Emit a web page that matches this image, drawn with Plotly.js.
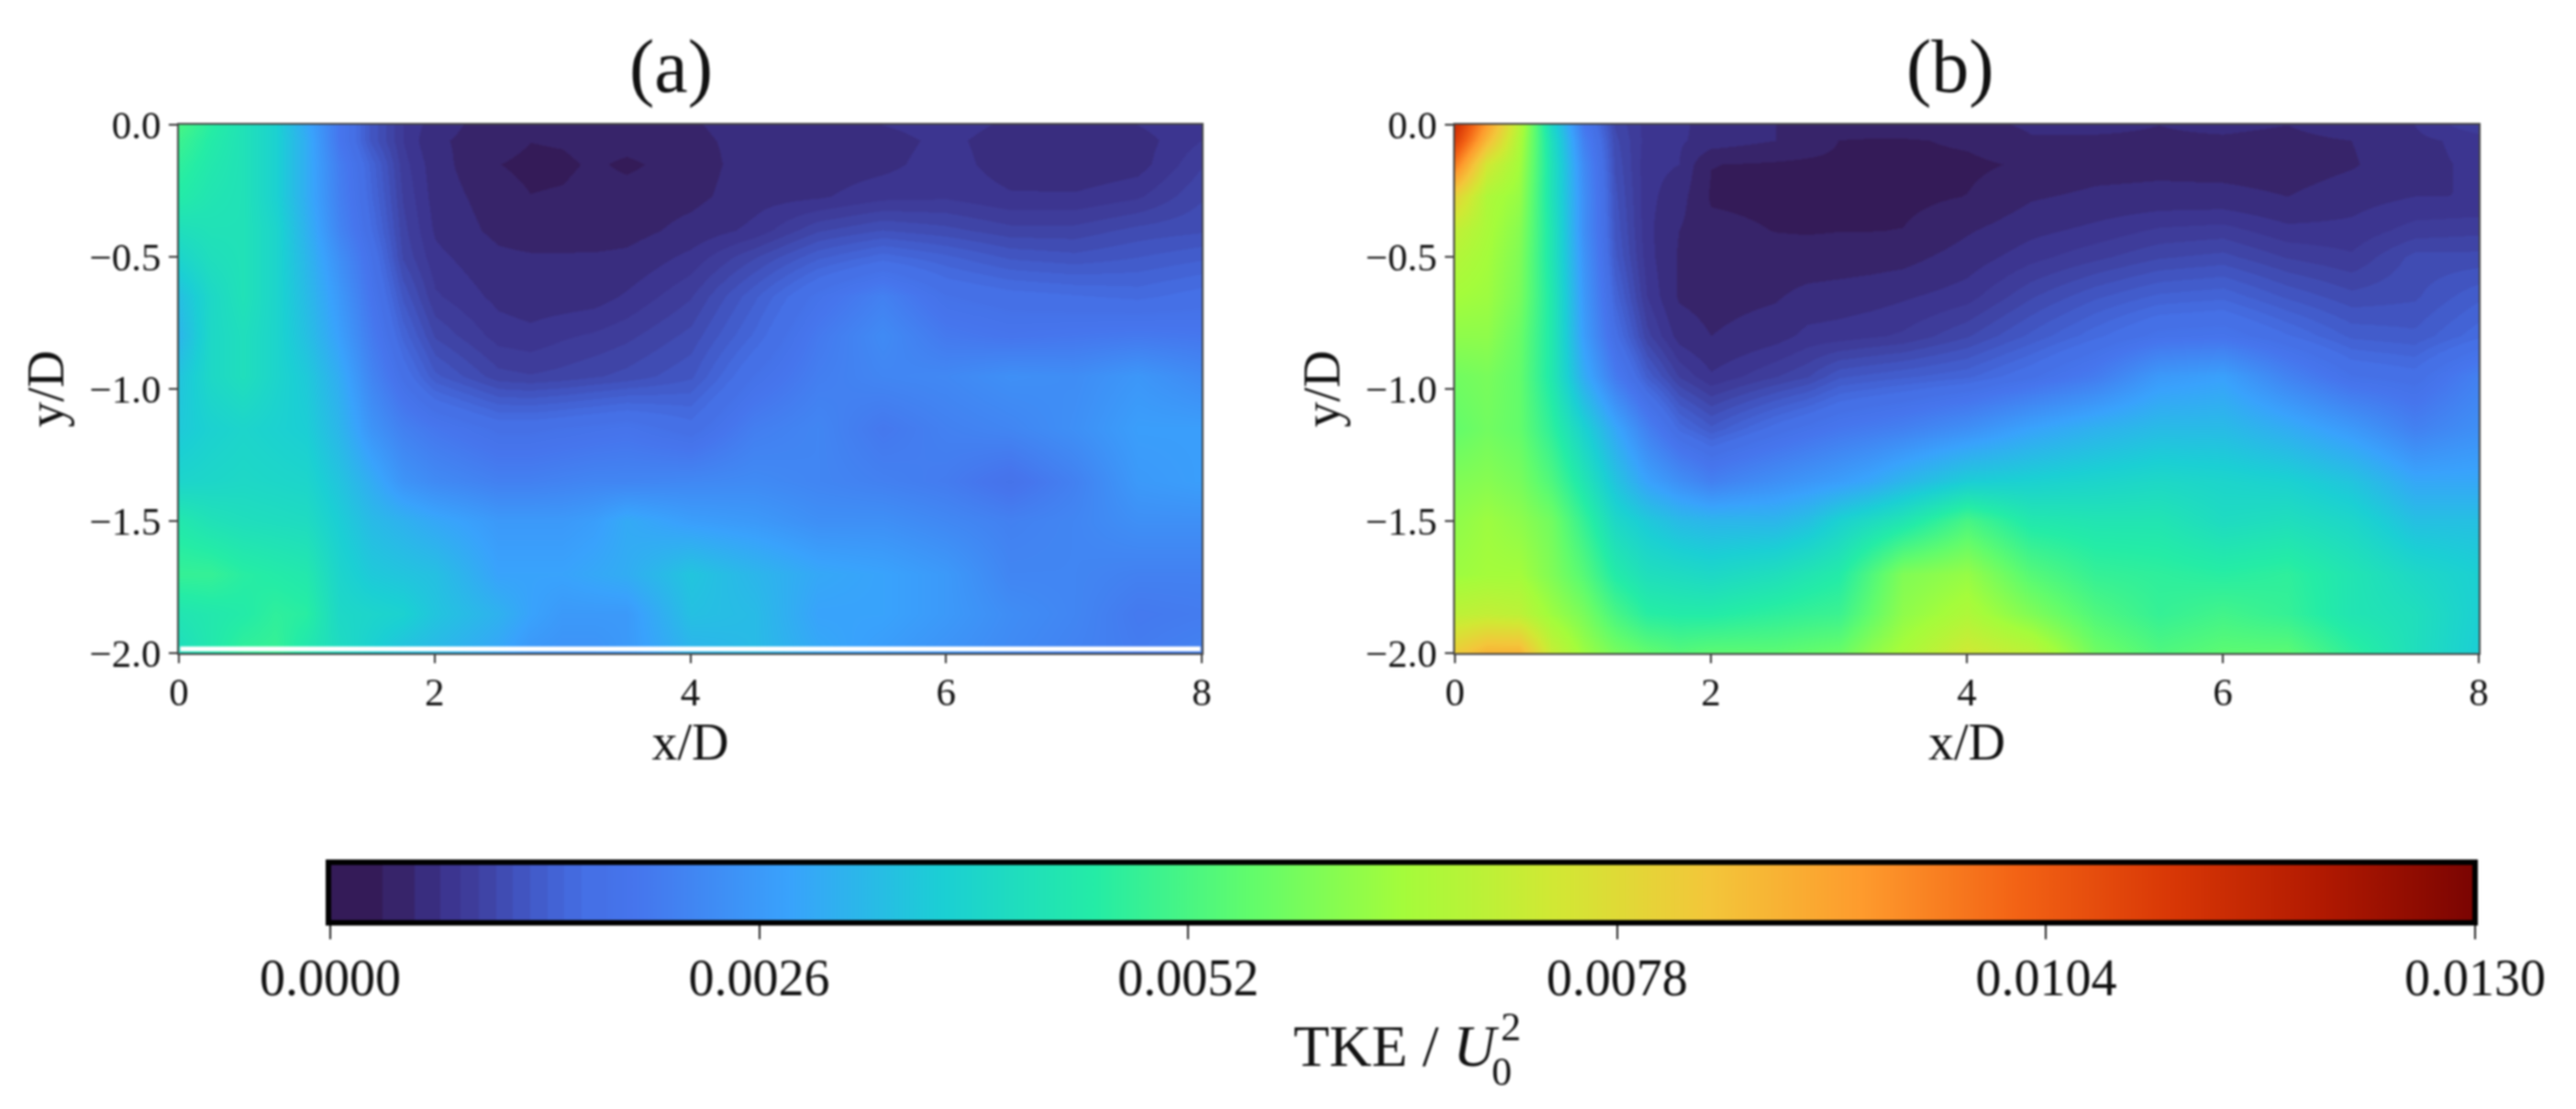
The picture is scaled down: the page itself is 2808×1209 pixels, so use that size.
<!DOCTYPE html>
<html>
<head>
<meta charset="utf-8">
<script src="https://cdn.plot.ly/plotly-3.0.1.min.js"></script>
<style>html,body{margin:0;padding:0;background:#fff}#plot{width:2808px;height:1209px;filter:blur(0.9px)}</style>
</head>
<body>
<div id="plot"></div>
<script>
const xGrid = [0,0.25,0.5,0.75,1,1.25,1.5,1.75,2,2.5,2.75,3,3.25,3.5,4,4.5,5,5.5,6,6.5,7,7.5,8];
const yGridA = [0,-0.06,-0.15,-0.27,-0.4,-0.5,-0.65,-0.8,-0.95,-1.15,-1.35,-1.5,-1.7,-1.85,-1.97];
const yGridB = [0,-0.06,-0.15,-0.27,-0.4,-0.5,-0.65,-0.8,-0.95,-1.15,-1.35,-1.5,-1.7,-1.85,-2];

// TKE x 1000, one inner list per y position, left to right
const panelA = [
 [5.2,4.7,4.3,3.8,2.9,1.9,1.2,.8,.6,.42,.4,.42,.42,.42,.5,.6,.65,.68,.75,.65,.65,.68,.8],
 [5.0,4.6,4.3,3.8,3.0,1.9,1.2,.8,.55,.42,.33,.35,.42,.42,.48,.58,.6,.62,.72,.6,.58,.62,.8],
 [4.8,4.5,4.3,3.8,3.0,2.05,1.4,.85,.6,.33,.27,.28,.36,.28,.44,.6,.6,.64,.75,.6,.56,.62,.9],
 [4.6,4.4,4.3,3.8,3.0,2.1,1.45,.9,.62,.42,.33,.35,.42,.42,.47,.62,.66,.76,.78,.7,.7,.78,1.0],
 [4.2,4.3,4.3,3.9,3.1,2.2,1.55,.95,.66,.47,.42,.42,.43,.45,.58,.72,1.0,1.12,1.05,.95,.95,1.05,1.1],
 [3.9,4.2,4.3,3.9,3.2,2.4,1.7,1.0,.72,.56,.54,.54,.54,.56,.72,1.0,1.3,1.48,1.35,1.2,1.15,1.22,1.3],
 [3.4,4.0,4.3,3.9,3.3,2.6,1.85,1.2,.82,.64,.6,.6,.62,.7,.9,1.3,1.75,2.1,1.7,1.6,1.55,1.5,1.6],
 [3.2,4.0,4.2,3.9,3.4,2.75,2.0,1.4,1.0,.75,.72,.78,.82,.88,1.05,1.45,1.95,2.3,1.95,1.85,1.9,1.95,1.9],
 [3.5,4.0,4.2,3.9,3.6,3.0,2.2,1.65,1.25,.95,.92,.95,1.0,1.05,1.2,1.7,2.05,2.2,2.25,2.4,2.35,2.55,2.3],
 [3.6,3.8,3.9,3.8,3.7,3.2,2.5,2.1,1.9,1.65,1.65,1.7,1.75,1.8,1.6,2.05,2.2,1.92,2.1,2.2,2.4,2.7,2.7],
 [3.9,3.95,4.0,3.95,3.9,3.5,3.0,2.5,2.3,2.1,2.1,2.15,2.2,2.2,2.25,2.3,2.2,2.1,2.0,1.75,2.1,2.6,2.7],
 [4.5,4.3,4.2,4.15,4.1,3.7,3.3,3.1,2.9,2.6,2.6,2.6,2.7,2.95,2.7,2.6,2.4,2.4,2.25,2.1,2.2,2.4,2.4],
 [4.9,4.9,4.7,4.6,4.5,3.9,3.6,3.5,3.4,2.8,2.8,2.8,2.9,3.0,3.5,3.2,2.9,2.8,2.6,2.2,2.2,2.1,2.1],
 [4.4,4.5,4.6,4.8,4.7,4.0,3.9,3.8,3.5,3.1,2.8,2.6,2.6,2.6,3.4,3.3,2.8,2.8,2.6,2.35,2.2,1.95,2.0],
 [4.2,4.5,4.8,4.9,4.5,4.1,3.8,3.5,3.3,2.9,2.6,2.5,2.5,2.6,3.2,3.3,2.9,2.7,2.5,2.3,2.15,2.0,2.1]
];
const panelB = [
 [11.5,9.2,6.9,4.0,1.9,1.0,.75,.72,.6,.52,.5,.48,.48,.48,.45,.55,.55,.52,.55,.52,.6,.68,.9],
 [11,8.6,6.7,4.2,2.1,1.05,.75,.7,.62,.52,.45,.32,.3,.3,.36,.5,.5,.5,.5,.48,.52,.65,.72],
 [9.8,7.4,6.5,4.3,2.3,1.1,.72,.68,.33,.3,.28,.28,.27,.27,.28,.36,.44,.46,.44,.42,.5,.65,.7],
 [8.0,6.7,6.3,4.3,2.4,1.15,.72,.6,.3,.28,.28,.28,.27,.27,.33,.5,.56,.58,.58,.52,.62,.68,.68],
 [7.1,6.6,6.1,4.4,2.4,1.2,.72,.52,.38,.32,.31,.32,.32,.33,.5,.64,.72,.82,.85,.72,.72,.85,.88],
 [6.8,6.5,6.0,4.4,2.5,1.25,.74,.5,.42,.4,.4,.42,.44,.46,.6,.76,.88,1.0,1.05,.9,.82,1.05,1.05],
 [6.5,6.4,5.9,4.5,2.6,1.4,.8,.5,.45,.5,.58,.6,.62,.66,.75,1.0,1.2,1.35,1.4,1.2,1.05,1.1,1.3],
 [6.2,6.2,5.7,4.5,2.7,1.6,.95,.62,.52,.62,.72,.74,.78,.82,1.0,1.25,1.5,1.75,1.8,1.55,1.3,1.25,1.5],
 [5.8,5.9,5.6,4.5,3.0,2.0,1.3,.9,.7,.9,1.0,1.2,1.25,1.3,1.4,1.65,2.0,2.6,2.75,2.15,1.7,1.6,2.1],
 [5.6,5.8,5.6,4.8,3.8,2.9,2.1,1.5,1.25,1.6,1.75,1.9,2.0,2.1,2.4,2.8,3.1,3.3,3.3,3.0,2.6,2.1,2.4],
 [6.0,6.1,5.9,5.3,4.4,3.5,2.8,2.4,2.1,2.4,2.55,2.7,2.9,3.2,3.7,3.8,3.9,4.0,3.9,3.8,3.5,2.9,2.9],
 [6.2,6.4,6.2,5.8,4.9,4.0,3.6,3.3,3.2,3.2,3.4,3.8,4.1,4.4,5.2,4.5,4.4,4.4,4.1,4.2,3.95,3.4,3.4],
 [6.4,6.5,6.5,6.0,5.4,4.6,4.2,4.1,4.0,4.2,4.4,4.6,5.3,6.0,6.3,5.4,4.9,4.8,4.7,4.8,4.4,4.0,3.75],
 [7.0,7.1,7.0,6.4,5.9,5.2,4.7,4.6,4.6,4.8,4.9,5.0,5.6,6.2,6.7,6.0,5.3,4.9,5.1,4.9,4.4,4.2,3.75],
 [8.2,8.8,8.8,7.2,6.4,5.9,5.6,5.4,5.5,5.5,5.6,5.7,6.2,6.6,7.4,7.0,5.8,5.3,5.5,5.5,4.8,4.2,3.7]
];
const xTicks = [0,2,4,6,8];
const yTicks = [0,-0.5,-1,-1.5,-2];
const yTickText = ['0.0','\u22120.5','\u22121.0','\u22121.5','\u22122.0'];
const barTicks = [0,0.0026,0.0052,0.0078,0.0104,0.013];
const barLabels = ['0.0000','0.0026','0.0052','0.0078','0.0104','0.0130'];
// dark end of the map is stepped (visible filled levels), the rest is continuous
const stepEdges = [0,0.025,0.04,0.0523,0.0615,0.07,0.078,0.086,0.094,0.102,0.11,0.118,0.13];
const stepColors = ['#341b58','#37246a','#392d7f','#3c3590','#3e3c9a','#3f44a6','#404cb3','#4154c0','#425ccb','#4363d5','#446ade','#4570e6'];
const smoothStops = [0.13,0.143,0.214,0.286,0.357,0.429,0.5,0.571,0.643,0.714,0.786,0.857,0.929,1];
const smoothColors = ['#4572e8','#4675ed','#39a2fc','#1bcfd4','#24eca6','#61fc6c','#a4fc3b','#d1e834','#f3c63a','#fe9b2d','#f36315','#d93806','#b11901','#7a0402'];

const W = 2808, H = 1209;
const FONT = '"Liberation Serif", serif';
const scaled = rows => rows.map(r => r.map(v => v / 1000));
const scale = [];
stepColors.forEach((c, i) => { scale.push([stepEdges[i], c]); scale.push([stepEdges[i + 1], c]); });
smoothStops.forEach((s, i) => { if (i > 0 || s > stepEdges[stepEdges.length - 1]) scale.push([s, smoothColors[i]]); else scale.push([s, smoothColors[i]]); });

function trace(yGrid, rows, xa, ya, bar) {
  return {
    type: 'heatmap', x: xGrid, y: yGrid, z: scaled(rows), xaxis: xa, yaxis: ya,
    zmin: 0, zmax: 0.013, zauto: false, zsmooth: 'best',
    colorscale: scale, showscale: bar,
    colorbar: bar ? {
      orientation: 'h', lenmode: 'pixels', len: 2340, thicknessmode: 'pixels', thickness: 66,
      x: 358 / W, xanchor: 'left', y: 1 - 940 / H, yanchor: 'top', xpad: 0, ypad: 0,
      outlinecolor: '#000', outlinewidth: 6, borderwidth: 0,
      ticks: '', showticklabels: false
    } : undefined
  };
}
function axis(dom, anchor, ticks, text, title, standoff, rng) {
  return {
    domain: dom, anchor: anchor, range: rng, tickmode: 'array', tickvals: ticks, ticktext: text,
    ticks: 'outside', ticklen: 9, tickwidth: 2, tickcolor: '#333',
    showline: true, linecolor: '#444', linewidth: 2, mirror: true,
    showgrid: false, zeroline: false, layer: 'above traces',
    tickfont: {family: FONT, size: 43, color: '#111'},
    title: {text: title, standoff: standoff, font: {family: FONT, size: 56, color: '#111'}}
  };
}
const yDom = [1 - 712 / H, 1 - 136 / H];
const xa = axis([195 / W, 1310 / W], 'y', xTicks, xTicks.map(String), 'x/D', 4, [0, 8]);
const xb = axis([1586 / W, 2702 / W], 'y2', xTicks, xTicks.map(String), 'x/D', 4, [0, 8]);
xa.ticklabelstandoff = -6; xb.ticklabelstandoff = -6;
const layout = {
  width: W, height: H, margin: {l: 0, r: 0, t: 0, b: 0}, paper_bgcolor: '#fff', plot_bgcolor: '#fff', showlegend: false,
  xaxis: xa,
  yaxis: axis(yDom, 'x', yTicks, yTickText, 'y/D', 10, [-2, 0]),
  xaxis2: xb,
  yaxis2: axis(yDom, 'x2', yTicks, yTickText, 'y/D', 10, [-2, 0]),
  // tick axis of the colour bar
  xaxis3: {
    domain: [360 / W, 2698 / W], anchor: 'y3', range: [0, 0.013], tickmode: 'array', tickvals: barTicks, ticktext: barLabels,
    ticks: 'outside', ticklen: 17, tickwidth: 2, tickcolor: '#222', showline: false, showgrid: false, zeroline: false,
    ticklabelstandoff: -6, tickfont: {family: FONT, size: 56, color: '#111'}
  },
  yaxis3: {domain: [1 - 1006 / H, 1 - 940 / H], anchor: 'x3', range: [0, 1], visible: false},
  // panel (a) has no data in the last sliver above y = -2
  shapes: [{type: 'rect', xref: 'x', yref: 'y', x0: 0.01, x1: 7.99, y0: -1.993, y1: -1.975, fillcolor: '#fff', line: {width: 0}, layer: 'above'}],
  annotations: [
    {text: '(a)', xref: 'paper', yref: 'paper', x: 731 / W, y: 1 - 72 / H, xanchor: 'center', yanchor: 'middle', showarrow: false, font: {family: FONT, size: 82, color: '#111'}},
    {text: '(b)', xref: 'paper', yref: 'paper', x: 2126 / W, y: 1 - 72 / H, xanchor: 'center', yanchor: 'middle', showarrow: false, font: {family: FONT, size: 82, color: '#111'}},
    {text: 'TKE / <i>U</i>', xref: 'paper', yref: 'paper', x: 1636 / W, y: 1 - 1140 / H, xanchor: 'right', yanchor: 'middle', showarrow: false, font: {family: FONT, size: 64, color: '#111'}},
    {text: '2', xref: 'paper', yref: 'paper', x: 1634 / W, y: 1 - 1119 / H, xanchor: 'left', yanchor: 'middle', showarrow: false, font: {family: FONT, size: 44, color: '#111'}},
    {text: '0', xref: 'paper', yref: 'paper', x: 1624 / W, y: 1 - 1168 / H, xanchor: 'left', yanchor: 'middle', showarrow: false, font: {family: FONT, size: 44, color: '#111'}}
  ]
};
Plotly.newPlot('plot', [
  trace(yGridA, panelA, 'x', 'y', true),
  trace(yGridB, panelB, 'x2', 'y2', false),
  {type: 'scatter', mode: 'markers', x: barTicks, y: barTicks.map(() => 0), xaxis: 'x3', yaxis: 'y3', marker: {opacity: 0}, hoverinfo: 'skip'}
], layout, {displayModeBar: false, staticPlot: true});
</script>
</body>
</html>
